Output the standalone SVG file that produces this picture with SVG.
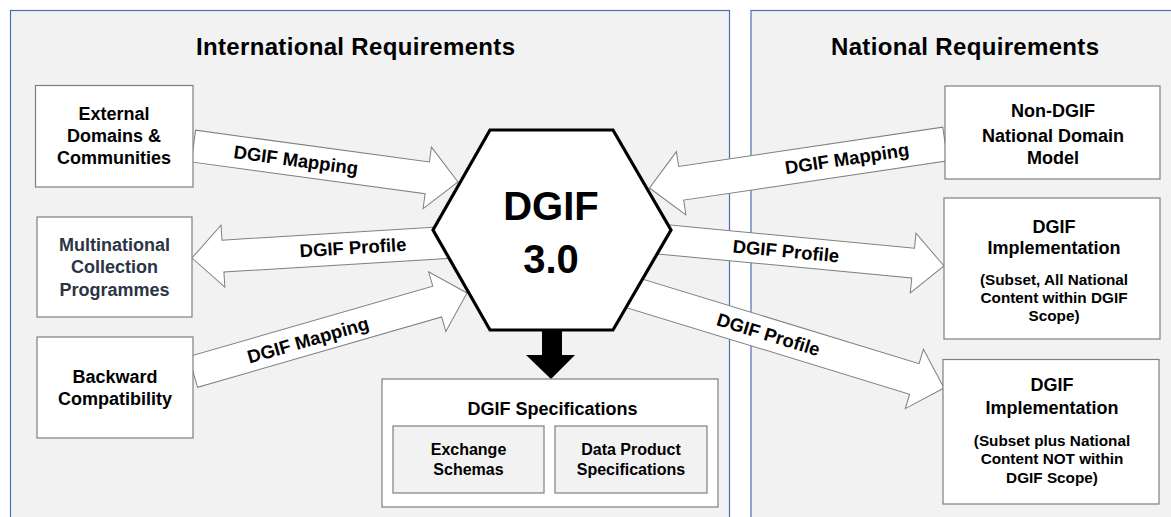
<svg xmlns="http://www.w3.org/2000/svg" width="1171" height="517" viewBox="0 0 1171 517">
<style>
.panel{fill:#f2f2f2;stroke:#4a6fb0;stroke-width:1.2}
.box{fill:#ffffff;stroke:#7f7f7f;stroke-width:1.2}
.ibox{fill:#f2f2f2;stroke:#7f7f7f;stroke-width:1.2}
.arrow{fill:#ffffff;stroke:#7f7f7f;stroke-width:1}
text{font-family:"Liberation Sans",Arial,sans-serif;font-weight:bold;fill:#000;text-anchor:middle}
.title{font-size:24px}
.t18{font-size:18px}
.t16{font-size:16px}
.t15{font-size:15.3px}
.lbl{font-size:18.5px}
.hex{font-size:40px}
.slate{fill:#2a3545}
</style>
<rect width="1171" height="517" fill="#ffffff"/>
<g id="panels">
<rect class="panel" x="10.5" y="10.5" width="719" height="530"/>
<rect class="panel" x="751" y="10.5" width="440" height="530"/>
<text class="title" x="355.5" y="55" textLength="319" lengthAdjust="spacing">International Requirements</text>
<text class="title" x="965" y="55" textLength="268" lengthAdjust="spacing">National Requirements</text>
</g>
<g id="connectors">
<polygon class="arrow" transform="translate(458,182) rotate(7.74)" points="0,0 -31,-31 -31,-16 -267,-16 -267,16 -31,16 -31,31"/>
<polygon class="arrow" transform="translate(192,258) rotate(176.5)" points="0,0 -31,-31 -31,-16 -263,-16 -263,16 -31,16 -31,31"/>
<polygon class="arrow" transform="translate(467,293) rotate(-16.08)" points="0,0 -31,-31 -31,-16 -285,-16 -285,16 -31,16 -31,31"/>
<polygon class="arrow" transform="translate(649.5,188) rotate(171.53)" points="0,0 -32,-32 -32,-17 -299,-17 -299,17 -32,17 -32,32"/>
<polygon class="arrow" transform="translate(944,266) rotate(5.4)" points="0,0 -31,-30 -31,-15 -305,-15 -305,15 -31,15 -31,30"/>
<polygon class="arrow" transform="translate(944,388) rotate(17)" points="0,0 -31,-31 -31,-16 -340,-16 -340,16 -31,16 -31,31"/>
<polygon fill="#000000" points="542,328 562,328 562,355 575,355 551,379 526,355 542,355"/>
<g transform="translate(296,160) rotate(7.74)"><text class="lbl" x="0" y="6.5">DGIF Mapping</text></g>
<g transform="translate(353,247.5) rotate(-3.5)"><text class="lbl" x="0" y="6.5">DGIF Profile</text></g>
<g transform="translate(308,340) rotate(-16.08)"><text class="lbl" x="0" y="6.5">DGIF Mapping</text></g>
<g transform="translate(847,158.5) rotate(-8.47)"><text class="lbl" x="0" y="6.5">DGIF Mapping</text></g>
<g transform="translate(786,251) rotate(5.4)"><text class="lbl" x="0" y="6.5">DGIF Profile</text></g>
<g transform="translate(768.5,334.5) rotate(17)"><text class="lbl" x="0" y="6.5">DGIF Profile</text></g>
</g>
<g id="hexagon">
<polygon fill="#ffffff" stroke="#000000" stroke-width="3.2" stroke-linejoin="miter" points="490,130 613,130 671,230 613,330 490,330 433,230"/>
<text class="hex" x="551" y="220">DGIF</text>
<text class="hex" x="551" y="273">3.0</text>
</g>
<g id="external">
<rect class="box" x="35.5" y="85.5" width="157.5" height="101.5"/>
<text class="t18" x="114" y="119.5">External</text>
<text class="t18" x="114" y="141.5">Domains &amp;</text>
<text class="t18" x="114" y="163.5">Communities</text>
</g>
<g id="multinational">
<rect class="box" x="37" y="217" width="155" height="100"/>
<text class="t18 slate" x="114.5" y="250.5">Multinational</text>
<text class="t18 slate" x="114.5" y="273">Collection</text>
<text class="t18 slate" x="114.5" y="295.5">Programmes</text>
</g>
<g id="backward">
<rect class="box" x="37" y="337" width="156" height="101"/>
<text class="t18" x="115" y="383">Backward</text>
<text class="t18" x="115" y="405">Compatibility</text>
</g>
<g id="specifications">
<rect class="box" x="382" y="379" width="336" height="128"/>
<text class="t18" x="552.5" y="415">DGIF Specifications</text>
<g id="exchange">
<rect class="ibox" x="393" y="426" width="151" height="67"/>
<text class="t16" x="468.5" y="455">Exchange</text>
<text class="t16" x="468.5" y="475">Schemas</text>
</g>
<g id="dataproduct">
<rect class="ibox" x="555" y="426" width="152" height="67"/>
<text class="t16" x="631" y="455">Data Product</text>
<text class="t16" x="631" y="475">Specifications</text>
</g>
</g>
<g id="nondgif">
<rect class="box" x="945" y="86" width="215" height="93"/>
<text class="t18" x="1053" y="117">Non-DGIF</text>
<text class="t18" x="1053" y="141.5">National Domain</text>
<text class="t18" x="1053" y="163.5">Model</text>
</g>
<g id="impl1">
<rect class="box" x="944" y="198" width="216" height="141"/>
<text class="t18" x="1054" y="233">DGIF</text>
<text class="t18" x="1054" y="254">Implementation</text>
<text class="t15" x="1054" y="285">(Subset, All National</text>
<text class="t15" x="1054" y="303">Content within DGIF</text>
<text class="t15" x="1054" y="321">Scope)</text>
</g>
<g id="impl2">
<rect class="box" x="943" y="359.5" width="216" height="144.5"/>
<text class="t18" x="1052" y="390.5">DGIF</text>
<text class="t18" x="1052" y="414">Implementation</text>
<text class="t15" x="1052" y="445.5">(Subset plus National</text>
<text class="t15" x="1052" y="464">Content NOT within</text>
<text class="t15" x="1052" y="483">DGIF Scope)</text>
</g>
</svg>
